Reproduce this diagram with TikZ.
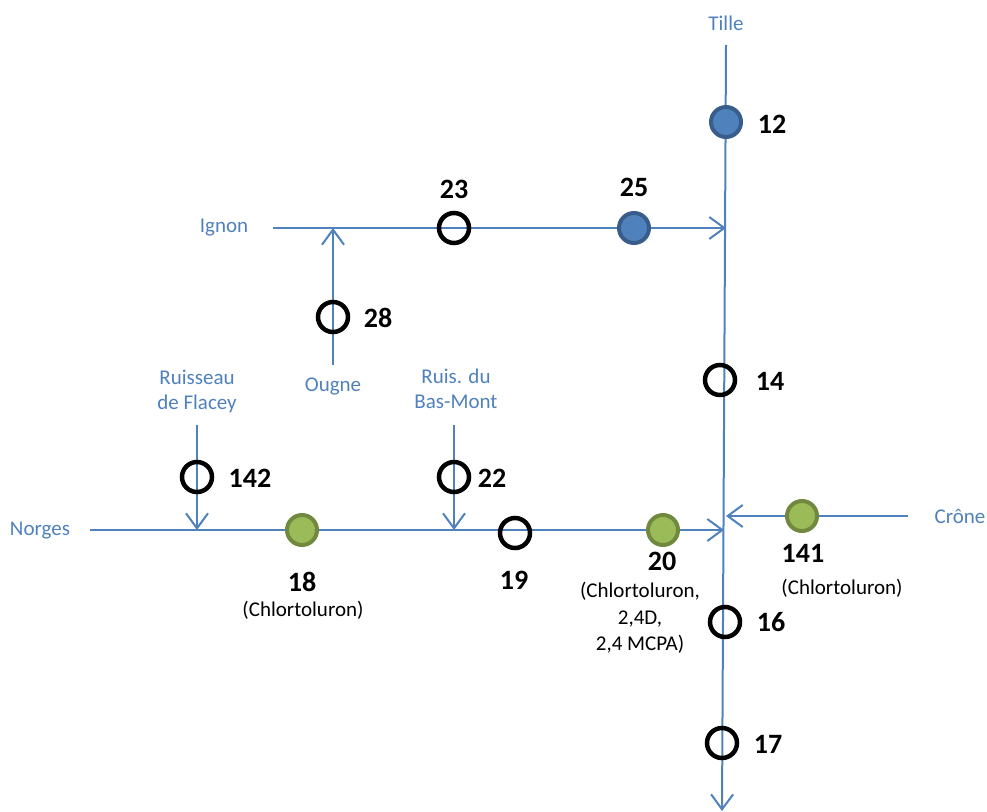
\documentclass[tikz,border=0pt]{standalone}
\usepackage{fontspec}
\setmainfont{Carlito}
\usetikzlibrary{arrows.meta}
\definecolor{river}{HTML}{4F81BD}
\definecolor{bluefill}{HTML}{4F81BD}
\definecolor{blueline}{HTML}{385D8A}
\definecolor{greenfill}{HTML}{9BBB59}
\definecolor{greenline}{HTML}{71893F}
\begin{document}
\begin{tikzpicture}[x=1pt,y=-1pt,
  riv/.style={draw=river, line width=2pt},
  flow/.style={riv, -{Straight Barb[length=15pt,width=22pt,line width=2pt]}},
  rname/.style={text=river, font=\fontsize{21}{25}\selectfont, align=center, inner sep=0pt},
  num/.style={font=\bfseries\fontsize{28}{30}\selectfont, inner sep=0pt},
  note/.style={font=\fontsize{21}{26.5}\selectfont, align=center, inner sep=0pt},
  site/.style={circle, draw=black, line width=4.5pt, minimum size=30pt, inner sep=0pt},
  bluesite/.style={site, draw=blueline, fill=bluefill, line width=4pt},
  greensite/.style={site, draw=greenline, fill=greenfill, line width=4pt}]
\useasboundingbox (0,0) rectangle (987,811);

% river ends and confluences
\coordinate (tilleTop) at (726,45);
\coordinate (tilleEnd) at (722,811);
\coordinate (ignonStart) at (273,228);
\coordinate (ignonMouth) at (726,228);
\coordinate (ougneStart) at (333,365);
\coordinate (ougneMouth) at (333,228);
\coordinate (norgesStart) at (90,530);
\coordinate (norgesMouth) at (724,530);
\coordinate (flaceyStart) at (197,425);
\coordinate (flaceyMouth) at (197,530);
\coordinate (basmontStart) at (454,425);
\coordinate (basmontMouth) at (454,530);
\coordinate (croneStart) at (908,516);
\coordinate (croneMouth) at (726,516);

% watercourses
\draw[flow] (tilleTop) -- (tilleEnd);
\draw[flow] (ignonStart) -- (ignonMouth);
\draw[flow] (ougneStart) -- (ougneMouth);
\draw[flow] (norgesStart) -- (norgesMouth);
\draw[flow] (flaceyStart) -- (flaceyMouth);
\draw[flow] (basmontStart) -- (basmontMouth);
\draw[flow] (croneStart) -- (croneMouth);

% river names
\node[rname] (tille) at (726,23) {Tille};
\node[rname] (ignon) at (224,228) {Ignon};
\node[rname] (ougne) at (333,386) {Ougne};
\node[rname] (norges) at (40,531) {Norges};
\node[rname] (crone) at (960,516) {Crône};
\node[rname] (flacey) at (197,391) {Ruisseau\\de Flacey};
\node[rname] (basmont) at (456,389) {Ruis. du\\Bas-Mont};

% sampling stations
\node[bluesite] (s12) at (726,122) {};
\node[num] (n12) at (772,124) {12};
\node[site] (s23) at (454,228) {};
\node[num] (n23) at (454,189) {23};
\node[bluesite] (s25) at (634,228) {};
\node[num] (n25) at (634,187) {25};
\node[site] (s28) at (333,317) {};
\node[num] (n28) at (378,318) {28};
\node[site] (s14) at (720,380) {};
\node[num] (n14) at (770,381) {14};
\node[site] (s142) at (197,477) {};
\node[num] (n142) at (250,478) {142};
\node[site] (s22) at (454,477) {};
\node[num] (n22) at (492,478) {22};
\node[greensite] (s18) at (302,530) {};
\node[num] (n18) at (302,582) {18};
\node[note] (c18) at (303,610) {(Chlortoluron)};
\node[site] (s19) at (515,533) {};
\node[num] (n19) at (514,580) {19};
\node[greensite] (s20) at (663,530) {};
\node[num] (n20) at (662,561) {20};
\node[note] (c20) at (640,618) {(Chlortoluron,\\2,4D,\\2,4 MCPA)};
\node[greensite] (s141) at (802,516) {};
\node[num] (n141) at (803,553) {141};
\node[note] (c141) at (842,588) {(Chlortoluron)};
\node[site] (s16) at (725,622) {};
\node[num] (n16) at (771,622) {16};
\node[site] (s17) at (722,743) {};
\node[num] (n17) at (768,744) {17};
\end{tikzpicture}
\end{document}
